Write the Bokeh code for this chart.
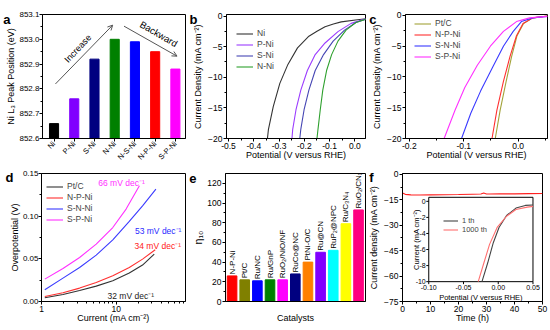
import math
from bokeh.plotting import figure
from bokeh.layouts import row, column
from bokeh.models import (Range1d, FixedTicker, NumeralTickFormatter, Label, Arrow,
                          OpenHead, Legend, LegendItem, LinearAxis, CustomJSTickFormatter)
from bokeh.core.properties import value
from bokeh.embed import file_html
from bokeh.resources import INLINE

FONT = "Liberation Sans"

# ---------------- (a) Ni L3 peak position ----------------
a_cats = ["Ni", "P-Ni", "S-Ni", "N-Ni", "N-S-Ni", "N-P-Ni", "S-P-Ni"]
a_vals = [852.66, 852.76, 852.92, 853.00, 852.99, 852.95, 852.88]
a_colors = ["#000000", "#8000ff", "#000080", "#008000", "#0000ff", "#ff0000", "#ff00ff"]
a_yticks = [852.6, 852.7, 852.8, 852.9, 853.0, 853.1]

# ---------------- (b) LSV Ni, P-Ni, S-Ni, N-Ni ----------------
b_ni_x = [-0.346, -0.342, -0.323, -0.297, -0.265, -0.227, -0.182, -0.150, -0.118, -0.085, -0.054, 0.010, 0.045]
b_ni_y = [-20.0, -18.5, -14.8, -11.0, -7.9, -5.2, -3.3, -2.5, -1.75, -1.3, -0.95, -0.6, -0.45]
b_pni_x = [-0.249, -0.246, -0.233, -0.214, -0.188, -0.157, -0.118, -0.067, -0.015, 0.036, 0.045]
b_pni_y = [-20.0, -18.5, -15.3, -12.1, -8.9, -6.3, -4.4, -2.55, -1.2, -0.55, -0.45]
b_sni_x = [-0.218, -0.214, -0.201, -0.182, -0.157, -0.124, -0.086, -0.041, 0.004, 0.045]
b_sni_y = [-20.0, -18.5, -15.3, -12.1, -8.9, -6.3, -4.1, -2.3, -1.05, -0.5]
b_nni_x = [-0.150, -0.146, -0.137, -0.127, -0.112, -0.092, -0.067, -0.035, 0.004, 0.045]
b_nni_y = [-20.0, -18.5, -15.3, -12.1, -8.9, -6.3, -4.1, -2.3, -1.05, -0.5]
b_xticks = [-0.5, -0.4, -0.3, -0.2, -0.1, 0.0]
b_yticks = [-20, -15, -10, -5, 0]

# ---------------- (c) LSV Pt/C, N-P-Ni, S-N-Ni, S-P-Ni ----------------
c_pt_x = [-0.042, -0.033, -0.022, -0.012, -0.002, 0.010, 0.027, 0.054]
c_pt_y = [-20.0, -15.4, -10.7, -6.7, -3.3, -1.3, -0.4, -0.1]
c_npni_x = [-0.048, -0.039, -0.027, -0.015, -0.003, 0.009, 0.027, 0.054]
c_npni_y = [-20.0, -15.4, -10.7, -6.7, -3.3, -1.3, -0.4, -0.1]
c_snni_x = [-0.104, -0.087, -0.069, -0.045, -0.027, -0.009, 0.006, 0.027, 0.054]
c_snni_y = [-20.0, -15.9, -12.3, -8.1, -5.0, -2.6, -1.0, -0.4, -0.15]
c_spni_x = [-0.136, -0.116, -0.098, -0.075, -0.051, -0.027, -0.003, 0.021, 0.054]
c_spni_y = [-20.0, -15.4, -11.7, -8.1, -5.0, -2.6, -1.0, -0.4, -0.15]
c_xticks = [-0.2, -0.1, 0.0]
c_yticks = [-20, -15, -10, -5, 0]

# ---------------- (d) Tafel plots ----------------
d_x = [1.107, 1.94, 3.24, 5.41, 9.02, 15.0, 22.6]
d_pt_x = d_x + [32.4]
d_pt_y = [0.0043, 0.0082, 0.0129, 0.0180, 0.0243, 0.0333, 0.0427, 0.0555]
d_npni_x = d_x + [33.4]
d_npni_y = [0.0059, 0.0102, 0.0157, 0.0223, 0.0301, 0.0398, 0.0497, 0.0606]
d_snni_x = d_x + [34.1]
d_snni_y = [0.0137, 0.0274, 0.0399, 0.0543, 0.0723, 0.0938, 0.1121, 0.1317]
d_spni_x = [1.107, 1.94, 3.24, 5.41, 9.02, 13.6, 20.5]
d_spni_y = [0.0262, 0.0387, 0.0516, 0.0672, 0.0867, 0.1083, 0.1356]
d_slopes = ["32 mV dec\u207b\u00b9", "34 mV dec\u207b\u00b9", "53 mV dec\u207b\u00b9", "66 mV dec\u207b\u00b9"]
d_yticks = [0.0, 0.05, 0.10, 0.15]
d_xticks = [1, 10]

# ---------------- (e) eta10 comparison ----------------
e_cats = ["N-P-Ni", "Pt/C", "Ru/NC", "Ru/GnP", "RuO\u2082/NiO/NF", "RuCo@NC", "PtNi-O/C",
          "Ru@CN", "RuP\u2082@NPC", "Ru/C\u2083N\u2084", "RuO\u2082/CN\u2093"]
e_vals = [26, 22, 21, 22, 22, 28, 40, 50, 52, 79, 93]
e_colors = ["#ff0000", "#808000", "#0000ff", "#008000", "#ff00ff", "#000080", "#ff8000",
            "#8000ff", "#00ffff", "#ffff00", "#ff0080"]
e_yticks = [0, 20, 40, 60, 80, 100, 120]

# ---------------- (f) stability ----------------
f_t = [0, 1, 3, 6, 10, 15, 20, 25, 28, 29, 30, 31, 35, 40, 45, 50]
f_j = [-11.0, -11.8, -12.1, -12.2, -12.1, -12.0, -11.9, -11.7, -11.6, -11.0, -11.6, -11.6, -11.5, -11.5, -11.4, -11.3]
f_xticks = [0, 10, 20, 30, 40, 50]
f_yticks = [-75, -60, -45, -30, -15, 0]
# inset
fi_1_x = [-0.0234, -0.0152, -0.0071, 0.0011, 0.012, 0.0255, 0.039, 0.05]
fi_1_y = [-10.0, -7.68, -5.15, -3.25, -1.77, -0.84, -0.51, -0.45]
fi_1000_x = [-0.0288, -0.0207, -0.0125, -0.0016, 0.012, 0.0255, 0.0418, 0.05]
fi_1000_y = [-10.0, -7.68, -5.36, -3.25, -1.86, -1.01, -0.72, -0.63]
fi_xticks = [-0.10, -0.05, 0.00, 0.05]
fi_xlabels = ["-0.10", "-0.05", "0.00", "0.05"]
fi_yticks = [0, -2, -4, -6, -8, -10]


def mids(t):
    return [(t[i] + t[i + 1]) / 2 for i in range(len(t) - 1)]


def base_fig(w, h, left, right, top, bottom, xr, yr, x_axis_type="linear"):
    p = figure(width=w, height=h, x_range=xr, y_range=yr, x_axis_type=x_axis_type,
               output_backend="svg", toolbar_location=None,
               min_border_left=left, min_border_right=right,
               min_border_top=top, min_border_bottom=bottom)
    p.xgrid.visible = False
    p.ygrid.visible = False
    p.outline_line_color = "#000000"
    p.outline_line_width = 1
    p.outline_line_alpha = 1
    p.background_fill_color = "white"
    p.border_fill_color = "white"
    for ax in (p.xaxis[0], p.yaxis[0]):
        ax.major_tick_out = 3
        ax.major_tick_in = 0
        ax.minor_tick_out = 2
        ax.minor_tick_in = 0
        ax.axis_line_color = "black"
        ax.major_tick_line_color = "black"
        ax.minor_tick_line_color = "black"
        ax.major_label_text_font = FONT
        ax.major_label_text_font_size = "8.5px"
        ax.major_label_text_color = "black"
        ax.axis_label_text_font = FONT
        ax.axis_label_text_font_size = "9px"
        ax.axis_label_text_font_style = "normal"
        ax.axis_label_text_color = "black"
        ax.major_label_standoff = 1
    p.xaxis[0].axis_label_standoff = -2
    p.yaxis[0].axis_label_standoff = 2
    return p


def letter(p, t, fh, dy=5, fs="13px"):
    """Panel letter drawn as the only tick label of an extra, invisible left axis."""
    y0, y1 = p.y_range.start, p.y_range.end
    tick = y1 - dy * (y1 - y0) / fh
    ax = LinearAxis(ticker=FixedTicker(ticks=[tick], minor_ticks=[]),
                    formatter=CustomJSTickFormatter(code="return '%s'" % t),
                    axis_line_color=None, major_tick_line_color=None,
                    minor_tick_line_color=None, major_tick_out=0, major_tick_in=0,
                    minor_tick_out=0, minor_tick_in=0,
                    major_label_text_font=FONT, major_label_text_font_style="bold",
                    major_label_text_font_size=fs, major_label_text_color="black",
                    major_label_standoff=-7)
    p.add_layout(ax, "left")


def add_legend(p, items, vx, vy, fs="8.5px", gw=17, lh=11):
    lg = Legend(items=[LegendItem(label=l, renderers=[r]) for l, r in items],
                location=(vx, vy), border_line_color=None, background_fill_alpha=0,
                label_text_font=FONT, label_text_font_size=fs, glyph_width=gw,
                glyph_height=lh, label_height=lh, spacing=0, padding=0, margin=0,
                label_standoff=4)
    p.add_layout(lg)


LW = 1.1
H1, T1, B1 = 167, 14, 26
FH1 = H1 - T1 - B1
H2, T2, B2 = 163, 6, 29
FH2 = H2 - T2 - B2

# ================= (a) =================
pa = base_fig(186, H1, 41, 1, T1, B1, Range1d(-0.57, 6.5), Range1d(a_yticks[0], a_yticks[-1]))
pa.vbar(x=list(range(len(a_cats))), top=a_vals, bottom=a_yticks[0], width=0.45,
        fill_color=a_colors, line_color=a_colors)
pa.xaxis.ticker = FixedTicker(ticks=list(range(len(a_cats))))
pa.xaxis.major_label_overrides = {i: c for i, c in enumerate(a_cats)}
pa.xaxis.major_label_orientation = math.pi / 4
pa.xaxis.major_label_text_font_size = "7.5px"
pa.xaxis.minor_tick_line_color = None
pa.yaxis.ticker = FixedTicker(ticks=a_yticks, minor_ticks=mids(a_yticks))
pa.yaxis.formatter = NumeralTickFormatter(format="0.0")
pa.yaxis.axis_label = "Ni L\u2083 Peak Position (eV)"
pa.yaxis.axis_label_standoff = 0
pa.yaxis.major_label_standoff = 0
pa.yaxis.major_label_text_font_size = "8px"
ARW = "#555555"
pa.add_layout(Arrow(end=OpenHead(size=5, line_color=ARW, line_width=1),
                    x_start=0.07, y_start=852.82, x_end=2.9, y_end=853.057,
                    line_color=ARW, line_width=1))
pa.add_layout(Arrow(end=OpenHead(size=5, line_color=ARW, line_width=1),
                    x_start=3.46, y_start=853.053, x_end=6.08, y_end=852.932,
                    line_color=ARW, line_width=1))
pa.add_layout(Label(x=1.18, y=852.963, text="Increase", angle=math.radians(47),
                    text_align="center", text_baseline="middle", text_font=FONT,
                    text_font_size="9px", text_color="black"))
pa.add_layout(Label(x=5.18, y=853.022, text="Backward", angle=math.radians(-30),
                    text_align="center", text_baseline="middle", text_font=FONT,
                    text_font_size="9.5px", text_color="black"))
letter(pa, "a", FH1)

# ================= (b) =================
pb = base_fig(180, H1, 36, 1, T1, B1, Range1d(-0.508, 0.042), Range1d(-20, 0.25))
rb1 = pb.line(b_ni_x, b_ni_y, line_color="#333333", line_width=LW)
rb2 = pb.line(b_pni_x, b_pni_y, line_color="#9b3cff", line_width=LW)
rb3 = pb.line(b_sni_x, b_sni_y, line_color="#4646b4", line_width=LW)
rb4 = pb.line(b_nni_x, b_nni_y, line_color="#2ea02e", line_width=LW)
pb.xaxis.ticker = FixedTicker(ticks=b_xticks, minor_ticks=mids(b_xticks))
pb.xaxis.formatter = NumeralTickFormatter(format="0.0")
pb.yaxis.ticker = FixedTicker(ticks=b_yticks, minor_ticks=mids(b_yticks))
pb.xaxis.axis_label = "Potential (V versus RHE)"
pb.yaxis.axis_label = "Current Density (mA cm\u207b\u00b2)"
add_legend(pb, [("Ni", rb1), ("P-Ni", rb2), ("S-Ni", rb3), ("N-Ni", rb4)], 10, 66.5)
letter(pb, "b", FH1)

# ================= (c) =================
pc = base_fig(184, H1, 33, 3, T1, B1, Range1d(-0.207, 0.054), Range1d(-20, 0.15))
rc1 = pc.line(c_pt_x, c_pt_y, line_color="#a3a33a", line_width=LW)
rc2 = pc.line(c_npni_x, c_npni_y, line_color="#ff3030", line_width=LW)
rc3 = pc.line(c_snni_x, c_snni_y, line_color="#3a3aff", line_width=LW)
rc4 = pc.line(c_spni_x, c_spni_y, line_color="#ff30ff", line_width=LW)
pc.xaxis.ticker = FixedTicker(ticks=c_xticks, minor_ticks=[-0.15, -0.05, 0.05])
pc.xaxis.formatter = NumeralTickFormatter(format="0.0")
pc.yaxis.ticker = FixedTicker(ticks=c_yticks, minor_ticks=mids(c_yticks))
pc.xaxis.axis_label = "Potential (V versus RHE)"
pc.yaxis.axis_label = "Current Density (mA cm\u207b\u00b2)"
add_legend(pc, [("Pt/C", rc1), ("N-P-Ni", rc2), ("S-N-Ni", rc3), ("S-P-Ni", rc4)], 9, 76.5)
letter(pc, "c", FH1)

# ================= (d) =================
pd_ = base_fig(186, H2, 41, 1, T2, B2, Range1d(1, 85), Range1d(d_yticks[0], d_yticks[-1]),
               x_axis_type="log")
rd1 = pd_.line(d_pt_x, d_pt_y, line_color="#333333", line_width=LW)
rd2 = pd_.line(d_npni_x, d_npni_y, line_color="#ff3030", line_width=LW)
rd3 = pd_.line(d_snni_x, d_snni_y, line_color="#3a3aff", line_width=LW)
rd4 = pd_.line(d_spni_x, d_spni_y, line_color="#ff30ff", line_width=LW)
pd_.xaxis.ticker = FixedTicker(ticks=d_xticks,
                               minor_ticks=[2, 3, 4, 5, 6, 7, 8, 9, 20, 30, 40, 50, 60, 70, 80])
pd_.xaxis.formatter = NumeralTickFormatter(format="0")
pd_.yaxis.ticker = FixedTicker(ticks=d_yticks, minor_ticks=mids(d_yticks))
pd_.yaxis.formatter = NumeralTickFormatter(format="0.00")
pd_.yaxis.axis_label_standoff = 0
pd_.yaxis.major_label_standoff = 0
pd_.yaxis.major_label_text_font_size = "8px"
pd_.xaxis.axis_label = "Current (mA cm\u207b\u00b2)"
pd_.yaxis.axis_label = "Overpotential (V)"
pd_.text(x=[15.7, 36.1, 36.6, 11.8], y=[0.0067, 0.0653, 0.0829, 0.139], text=d_slopes,
         text_color=["#222222", "#ff2020", "#2a2aff", "#ff30ff"], text_align="center",
         text_baseline="middle", text_font=value(FONT), text_font_size="8.5px")
add_legend(pd_, [("Pt/C", rd1), ("N-P-Ni", rd2), ("S-N-Ni", rd3), ("S-P-Ni", rd4)], 5, 76.5)
letter(pd_, "d", FH2, 4)

# ================= (e) =================
pe = base_fig(180, H2, 36, 1, T2, B2, Range1d(-0.52, 10.55), Range1d(0, 130))
pe.vbar(x=list(range(len(e_cats))), top=e_vals, width=0.76, fill_color=e_colors,
        line_color=e_colors)
pe.xaxis.ticker = FixedTicker(ticks=[])
pe.xaxis.axis_label = "Catalysts"
pe.xaxis.axis_label_standoff = 11
pe.yaxis.ticker = FixedTicker(ticks=e_yticks, minor_ticks=mids(e_yticks))
pe.yaxis.axis_label = "\u03b7\u2081\u2080"
pe.yaxis.axis_label_text_font_size = "10.5px"
pe.yaxis.axis_label_standoff = 0
for i, (name, v) in enumerate(zip(e_cats, e_vals)):
    pe.add_layout(Label(x=i, y=v, y_offset=1.5, text=name, angle=math.pi / 2,
                        text_align="left", text_baseline="middle", text_font=FONT,
                        text_font_size="8px", text_color="black"))
letter(pe, "e", FH2, 4.5)

# ================= (f) =================
FX = (0, 50)
FY = (-75, 0.5)
pf = base_fig(184, H2, 33, 8, T2, B2, Range1d(*FX), Range1d(*FY))
pf.line(f_t, f_j, line_color="#ff2020", line_width=LW)
pf.xaxis.ticker = FixedTicker(ticks=f_xticks, minor_ticks=mids(f_xticks))
pf.yaxis.ticker = FixedTicker(ticks=f_yticks, minor_ticks=mids(f_yticks))
pf.xaxis.axis_label = "Time (h)"
pf.yaxis.axis_label = "Current density (mA cm\u207b\u00b2)"
letter(pf, "f", FH2, 4)

# inset (drawn inside panel f on its own extra ranges)
INS_L, INS_R, INS_B, INS_T = 0.1875, 0.932, 0.155, 0.814
IX0, IX1 = fi_xticks[0], fi_xticks[-1]
IY0, IY1 = fi_yticks[-1], 0.5


def extend(lo, hi, fl, fr):
    span = (hi - lo) / (fr - fl)
    start = lo - fl * span
    return start, start + span


pf.extra_x_ranges = {"ix": Range1d(*extend(IX0, IX1, INS_L, INS_R))}
pf.extra_y_ranges = {"iy": Range1d(*extend(IY0, IY1, INS_B, INS_T))}
FW_F = 184 - 33 - 8
ppx = FW_F * (INS_R - INS_L) / (IX1 - IX0)
ppy = FH2 * (INS_T - INS_B) / (IY1 - IY0)
kw = dict(x_range_name="ix", y_range_name="iy")
pf.quad(left=[IX0], right=[IX1], bottom=[IY0], top=[IY1], fill_color="white",
        line_color="black", line_width=1, **kw)
ri1 = pf.line(fi_1_x, fi_1_y, line_color="#444444", line_width=LW, **kw)
ri2 = pf.line(fi_1000_x, fi_1000_y, line_color="#ff7070", line_width=LW, **kw)
TL = 2.5
pf.segment(x0=fi_xticks, y0=[IY0] * len(fi_xticks), x1=fi_xticks,
           y1=[IY0 - TL / ppy] * len(fi_xticks), line_color="black", line_width=1, **kw)
pf.segment(x0=[IX0] * len(fi_yticks), y0=fi_yticks, x1=[IX0 - TL / ppx] * len(fi_yticks),
           y1=fi_yticks, line_color="black", line_width=1, **kw)
pf.text(x=fi_xticks, y=[IY0] * len(fi_xticks), text=fi_xlabels, y_offset=3,
        text_align="center", text_baseline="top", text_font=value(FONT),
        text_font_size="7px", text_color="black", **kw)
pf.text(x=[IX0] * len(fi_yticks), y=fi_yticks, text=[str(v) for v in fi_yticks], x_offset=-3,
        text_align="right", text_baseline="middle", text_font=value(FONT),
        text_font_size="7px", text_color="black", **kw)
pf.text(x=[(IX0 + IX1) / 2], y=[IY0], text=["Potential (V versus RHE)"], y_offset=15.5,
        text_align="center", text_baseline="middle", text_font=value(FONT),
        text_font_size="7.5px", text_color="black", **kw)
pf.text(x=[IX0], y=[(IY0 + IY1) / 2], text=["Current (mA cm\u207b\u00b2)"], x_offset=-12.5,
        angle=math.pi / 2, text_align="center", text_baseline="middle",
        text_font=value(FONT), text_font_size="7.5px", text_color="black", **kw)
add_legend(pf, [("1 th", ri1), ("1000 th", ri2)], 41, 67.5, fs="7.5px", gw=15, lh=9)

layout = column(row(pa, pb, pc), row(pd_, pe, pf))
open("out.html", "w").write(file_html(layout, INLINE))
